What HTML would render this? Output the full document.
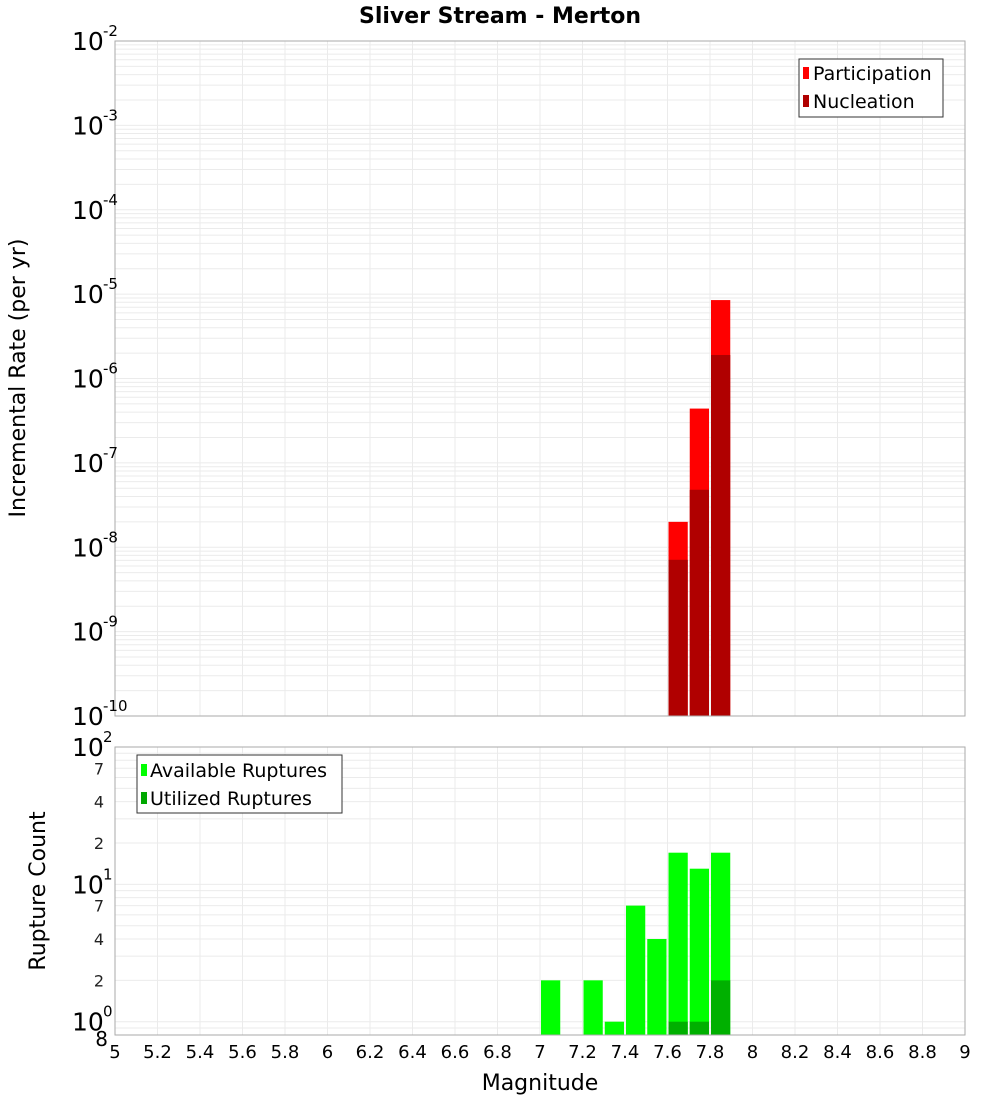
<!DOCTYPE html>
<html><head><meta charset="utf-8"><style>
body{margin:0;background:#fff;font-family:"Liberation Sans","DejaVu Sans",sans-serif}
text{font-family:"DejaVu Sans","Liberation Sans",sans-serif}
</style></head><body>
<svg id="chart" width="1000" height="1100" xmlns="http://www.w3.org/2000/svg">
<text x="500" y="23" text-anchor="middle" font-size="22" font-weight="bold">Sliver Stream - Merton</text>
<g id="gtop"></g>
<g id="gbot"></g>
<text transform="translate(25,378) rotate(-90)" text-anchor="middle" font-size="22">Incremental Rate (per yr)</text>
<text transform="translate(45,891) rotate(-90)" text-anchor="middle" font-size="22">Rupture Count</text>
<text x="540" y="1090" text-anchor="middle" font-size="22">Magnitude</text>
<g>
<rect x="799" y="59" width="144" height="58" fill="#fff" stroke="#333"/>
<rect x="803" y="67" width="6" height="12" fill="#ff0000"/>
<text x="813" y="80" font-size="19">Participation</text>
<rect x="803" y="95" width="6" height="12" fill="#b00000"/>
<text x="813" y="108" font-size="19">Nucleation</text>
</g>
<g>
<rect x="137" y="755" width="205" height="58" fill="#fff" stroke="#333"/>
<rect x="141" y="764" width="6" height="12" fill="#00ff00"/>
<text x="150" y="777" font-size="19">Available Ruptures</text>
<rect x="141" y="792" width="6" height="12" fill="#00a800"/>
<text x="150" y="805" font-size="19">Utilized Ruptures</text>
</g>
</svg>
<script>
const mags=[7.65,7.75,7.85];
const participation=[2.0e-8,4.4e-7,8.5e-6];
const nucleation=[7.1e-9,4.8e-8,1.9e-6];
const cntMags=[7.05,7.25,7.35,7.45,7.55,7.65,7.75,7.85];
const available=[2,2,1,7,4,17,13,17];
const utilized=[0,0,0,0,0,1,1,2];
const xTicks=[5,5.2,5.4,5.6,5.8,6,6.2,6.4,6.6,6.8,7,7.2,7.4,7.6,7.8,8,8.2,8.4,8.6,8.8,9];
const topExps=[-2,-3,-4,-5,-6,-7,-8,-9,-10];
const botExps=[2,1,0];
const botMinor=[7,4,2];
const NS='http://www.w3.org/2000/svg';
const L=115,R=965;
const xs=m=>L+(m-5)/4*(R-L);
const T0=41,T1=716;
const yTop=v=>T0+(-2-Math.log10(v))/8*(T1-T0);
const B0=747,B1=1035,bmin=0.8;
const yBot=v=>B0+(2-Math.log10(v))/(2-Math.log10(bmin))*(B1-B0);
function mk(p,tag,a){const e=document.createElementNS(NS,tag);for(const k in a)e.setAttribute(k,a[k]);p.appendChild(e);return e;}
const gTop=document.getElementById('gtop'),gBot=document.getElementById('gbot'),svgEl=document.getElementById('chart');
for(const t of xTicks){
 const g1=mk(gTop,'line',{x1:xs(t),x2:xs(t),y1:T0,y2:T1,stroke:'#ebebeb'});
 
 
 const g2=mk(gBot,'line',{x1:xs(t),x2:xs(t),y1:B0,y2:B1,stroke:'#ebebeb'});
 
 
 const tl=mk(svgEl,'text',{x:xs(t),y:1058,'text-anchor':'middle','font-size':18});
 
 
 tl.textContent=String(t);
}
for(let e=-10;e<-2;e++)for(let k=1;k<10;k++){
 const y=yTop(k*Math.pow(10,e));
 const g=mk(gTop,'line',{x1:L,x2:R,y1:y,y2:y,stroke:'#ebebeb'});
 
 
}
for(let e=-1;e<2;e++)for(let k=1;k<10;k++){
 const v=k*Math.pow(10,e);if(v<bmin)continue;
 const y=yBot(v);
 const g=mk(gBot,'line',{x1:L,x2:R,y1:y,y2:y,stroke:'#ebebeb'});
 
 
}
const bw=0.1/4*(R-L);
mags.forEach((m,i)=>{
 const x=xs(m)-bw/2+1;
 const p=mk(gTop,'rect',{x:x,y:yTop(participation[i]),width:bw-2,height:T1-yTop(participation[i]),fill:'#ff0000'});
 
 
 const n=mk(gTop,'rect',{x:x,y:yTop(nucleation[i]),width:bw-2,height:T1-yTop(nucleation[i]),fill:'#b00000'});
 
 
});
cntMags.forEach((m,i)=>{
 const x=xs(m)-bw/2+1;
 const a=mk(gBot,'rect',{x:x,y:yBot(available[i]),width:bw-2,height:B1-yBot(available[i]),fill:'#00ff00'});
 
 
 if(utilized[i]>0){
  const u=mk(gBot,'rect',{x:x,y:yBot(utilized[i]),width:bw-2,height:B1-yBot(utilized[i]),fill:'#00b000'});
  
  
 }
});
const f1=mk(gTop,'rect',{x:L,y:T0,width:R-L,height:T1-T0,fill:'none',stroke:'#aaa'});


const f2=mk(gBot,'rect',{x:L,y:B0,width:R-L,height:B1-B0,fill:'none',stroke:'#aaa'});


function expLabel(y,e,name){
 const t=mk(svgEl,'text',{x:72,y:y+9,'font-size':25});
 
 
 t.textContent='10';
 const s=mk(svgEl,'text',{x:103,y:y-5,'font-size':15});
 
 
 s.textContent=String(e);
}
topExps.forEach(e=>expLabel(yTop(Math.pow(10,e)),e,'top-y-tick-label'));
botExps.forEach(e=>expLabel(yBot(Math.pow(10,e)),e,'bottom-y-tick-label'));
for(let e=-1;e<2;e++)botMinor.forEach(k=>{
 const v=k*Math.pow(10,e);if(v<bmin||v>100)return;
 const t=mk(svgEl,'text',{x:104,y:yBot(v)+6,'font-size':16,'text-anchor':'end',fill:'#222'});
 
 
 t.textContent=String(k);
});
const eight=mk(svgEl,'text',{x:108,y:yBot(bmin)+11,'font-size':20,'text-anchor':'end'});


eight.textContent='8';
</script>
</body></html>
